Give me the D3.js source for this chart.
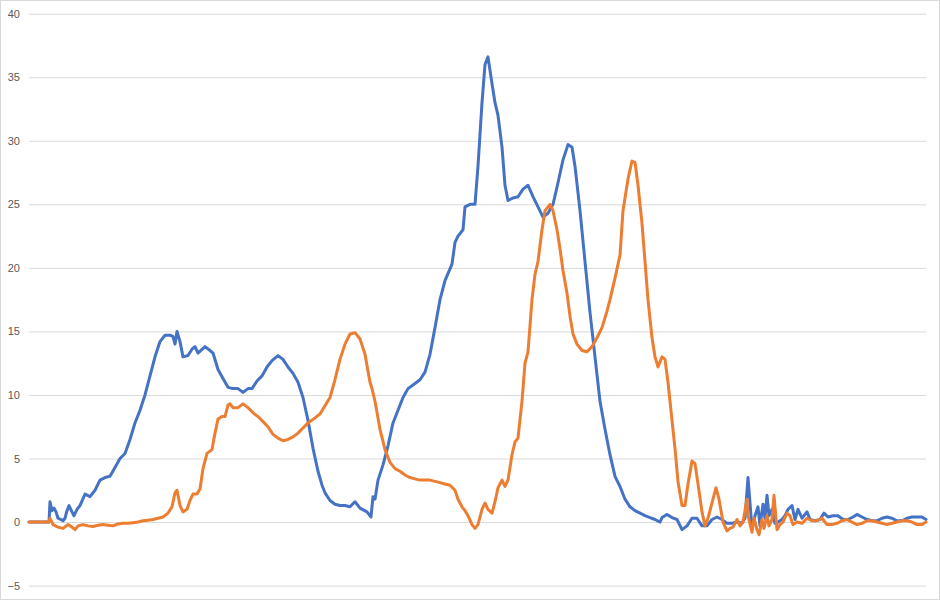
<!DOCTYPE html>
<html>
<head>
<meta charset="utf-8">
<script src="https://cdn.jsdelivr.net/npm/d3@7"></script>
<style>
  html, body { margin: 0; padding: 0; background: #fff; }
  svg { display: block; }
</style>
</head>
<body>
<svg id="chart" width="940" height="600"></svg>
<script>
// sample positions (arbitrary sample units, 0..897) and values
const blueT = [0,20,21,23,25,27,29,32,34,36,38,40,43,45,48,51,56,61,66,71,76,81,86,91,96,101,106,111,116,121,126,131,136,141,144,146,148,151,154,159,163,166,169,176,181,184,189,194,199,204,209,214,219,223,228,233,238,243,249,254,259,264,269,274,279,284,289,293,296,301,306,311,316,321,326,331,338,342,344,346,349,354,359,364,369,374,379,386,391,396,401,406,411,416,423,426,429,434,436,441,446,449,453,456,459,463,466,469,473,476,479,484,489,494,499,504,509,514,519,524,529,534,539,543,546,551,556,561,566,571,576,581,586,591,596,601,606,611,616,621,626,631,633,638,643,648,653,658,663,668,673,678,683,688,693,698,703,708,713,716,719,721,723,726,729,731,734,736,738,740,743,746,749,753,756,759,763,766,769,773,778,781,786,791,795,799,804,809,814,819,824,828,833,838,843,848,853,858,863,868,873,878,883,888,893,897];
const blueV = [0,0,1.6,0.9,1.1,0.8,0.3,0.2,0.1,0.3,0.9,1.3,0.8,0.5,1.0,1.3,2.2,2.0,2.5,3.3,3.5,3.6,4.3,5.0,5.4,6.5,7.8,8.8,10.0,11.5,13.0,14.2,14.7,14.7,14.6,14.0,15.0,14.2,13.0,13.1,13.6,13.8,13.3,13.8,13.5,13.3,12.0,11.3,10.6,10.5,10.5,10.2,10.5,10.5,11.1,11.5,12.2,12.7,13.1,12.8,12.2,11.7,11.0,9.8,8.0,5.8,4.0,2.9,2.3,1.7,1.4,1.3,1.3,1.2,1.6,1.1,0.8,0.4,2.0,1.8,3.3,4.5,6.0,7.8,8.8,9.8,10.5,10.9,11.2,11.8,13.2,15.3,17.5,19.0,20.3,22.0,22.5,23.0,24.8,25.0,25.0,28.0,33.0,36.0,36.6,34.5,33.0,32.0,29.5,26.5,25.3,25.5,25.6,26.2,26.5,25.6,24.8,24.0,24.3,25.0,26.7,28.5,29.7,29.5,28.0,24.5,20.5,16.5,13.0,9.5,7.3,5.3,3.6,2.8,1.8,1.2,0.9,0.7,0.5,0.35,0.2,0.0,0.35,0.6,0.35,0.2,-0.6,-0.3,0.3,0.3,-0.3,-0.3,0.2,0.4,0.2,-0.1,-0.1,0.0,-0.1,0.3,3.5,1.5,-0.5,0.5,1.2,-0.3,1.4,0.3,2.1,0.5,1.0,-0.1,0.0,0.2,0.5,1.0,1.3,0.2,1.0,0.3,0.8,0.2,0.1,0.2,0.7,0.4,0.5,0.5,0.2,0.2,0.4,0.6,0.4,0.2,0.1,0.1,0.3,0.4,0.3,0.1,0.1,0.3,0.4,0.4,0.4,0.2];

const orangeT = [0,20,21,24,29,34,39,43,46,49,54,59,64,69,74,79,84,89,94,99,104,109,114,119,124,129,134,139,143,146,148,151,154,158,161,164,168,171,174,178,183,186,189,193,196,199,201,204,209,214,219,224,229,234,239,244,249,254,259,264,269,274,279,286,291,301,306,311,316,321,326,331,336,341,343,346,351,356,361,366,371,376,381,386,391,396,401,406,411,416,421,426,429,433,436,439,443,446,449,453,456,459,463,466,469,473,476,479,483,486,489,493,496,499,503,506,509,513,516,521,524,528,531,534,538,541,544,548,553,558,563,568,573,578,581,586,591,594,599,603,606,609,613,616,619,623,626,629,633,636,639,643,646,649,653,656,659,663,666,669,673,676,679,683,687,690,694,698,701,704,708,711,714,718,719,723,725,728,730,733,735,738,740,743,745,748,751,754,758,761,764,768,773,778,783,788,793,798,803,808,813,818,823,828,833,838,843,848,853,858,863,868,873,878,883,888,893,897];
const orangeV = [0,0,0.3,-0.2,-0.4,-0.5,-0.2,-0.4,-0.6,-0.3,-0.2,-0.3,-0.35,-0.25,-0.2,-0.25,-0.3,-0.15,-0.1,-0.1,-0.05,0.0,0.1,0.15,0.2,0.3,0.4,0.7,1.2,2.3,2.5,1.3,0.8,1.0,1.7,2.2,2.2,2.6,4.2,5.4,5.7,7.0,8.1,8.3,8.3,9.2,9.3,9.0,9.0,9.3,9.0,8.6,8.3,7.9,7.5,6.9,6.6,6.4,6.5,6.7,7.0,7.4,7.8,8.2,8.5,9.8,11.2,12.8,14.0,14.8,14.9,14.4,13.2,11.0,10.5,9.5,7.3,5.7,4.7,4.2,4.0,3.7,3.5,3.4,3.3,3.3,3.3,3.2,3.1,3.0,2.9,2.5,1.8,1.2,0.9,0.5,-0.2,-0.5,-0.2,1.0,1.5,1.0,0.7,1.6,2.7,3.3,2.8,3.3,5.3,6.3,6.6,9.5,12.5,13.4,17.5,19.5,20.5,23.0,24.5,25.0,24.5,23.0,21.5,19.8,18.0,16.2,14.8,14.0,13.5,13.4,13.8,14.5,15.3,16.6,17.5,19.2,21.0,24.5,27.0,28.4,28.3,26.5,23.5,20.5,17.5,14.5,13.0,12.2,13.0,12.8,11.0,8.0,5.8,3.2,1.3,1.3,3.0,4.8,4.6,3.0,0.8,-0.3,0.3,1.5,2.7,1.8,0.0,-0.7,-0.5,-0.4,0.2,-0.3,0.0,1.8,0.5,-0.8,0.3,-0.6,-1.0,0.2,-0.5,0.5,-0.3,0.2,2.1,-0.6,-0.2,0.0,0.7,0.5,-0.2,0.0,-0.1,0.3,0.1,0.1,0.3,-0.2,-0.2,-0.1,0.1,0.2,0.0,-0.2,-0.1,0.1,0.1,0.0,-0.1,-0.2,-0.1,0.0,0.1,0.1,0.0,-0.2,-0.2,0.0];

const yTicks = [-5, 0, 5, 10, 15, 20, 25, 30, 35, 40];

const svg = d3.select("#chart");
const W = 940, H = 600;

svg.append("rect")
  .attr("x", 0.5).attr("y", 0.5)
  .attr("width", W - 1).attr("height", H - 1)
  .attr("fill", "#fff").attr("stroke", "#D9D9D9");

const x = d3.scaleLinear().domain([0, 897]).range([29, 926]);
const y = d3.scaleLinear().domain([-5, 40]).range([585.6, 13.7]);

const yAxis = d3.axisLeft(y).tickValues(yTicks).tickSize(-(926 - 29)).tickPadding(9);
const gY = svg.append("g").attr("transform", "translate(29,0)").call(yAxis);
gY.select(".domain").remove();
gY.selectAll(".tick line").attr("stroke", "#D9D9D9").attr("stroke-width", 1);
gY.selectAll(".tick text")
  .attr("fill", "#595959")
  .style("font-family", "'Liberation Sans', Arial, sans-serif")
  .style("font-size", "11px");

const line = d3.line()
  .x(d => x(d[0]))
  .y(d => y(d[1]));

const blue = blueT.map((t, i) => [t, blueV[i]]);
const orange = orangeT.map((t, i) => [t, orangeV[i]]);

svg.append("path")
  .datum(blue)
  .attr("fill", "none")
  .attr("stroke", "#4472C4")
  .attr("stroke-width", 3)
  .attr("stroke-linejoin", "round")
  .attr("stroke-linecap", "round")
  .attr("d", line);

svg.append("path")
  .datum(orange)
  .attr("fill", "none")
  .attr("stroke", "#ED7D31")
  .attr("stroke-width", 3)
  .attr("stroke-linejoin", "round")
  .attr("stroke-linecap", "round")
  .attr("d", line);
</script>
</body>
</html>
